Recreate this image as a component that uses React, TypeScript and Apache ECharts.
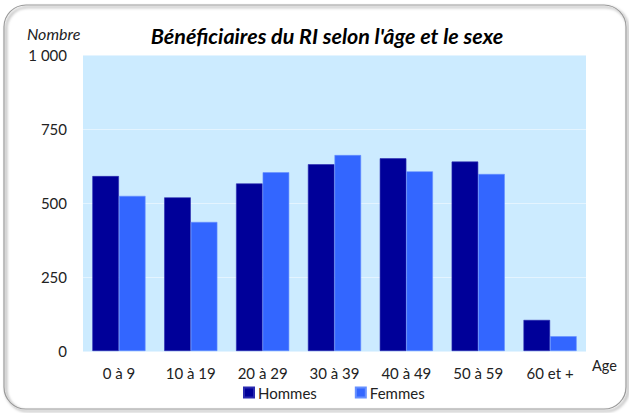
import React, { useEffect, useRef } from "react";
import * as echarts from "echarts";

const categories = ["0 à 9", "10 à 19", "20 à 29", "30 à 39", "40 à 49", "50 à 59", "60 et +"];
const hommes = [591, 519, 566, 631, 651, 640, 105];
const femmes = [524, 436, 604, 662, 607, 598, 50];
const FONT = "Lato";

export default function App() {
  const ref = useRef<HTMLDivElement>(null);
  useEffect(() => {
    const chart = echarts.init(ref.current!, null, { renderer: "svg" });
    chart.setOption({
      animation: false,
      backgroundColor: "#ffffff",
      textStyle: { fontFamily: FONT },
      graphic: [
        {
          type: "rect",
          shape: { x: 4, y: 5, width: 622, height: 404, r: 22 },
          style: { fill: "none", stroke: "#9a9a9a", lineWidth: 1.2, shadowColor: "rgba(0,0,0,0.55)", shadowBlur: 3, shadowOffsetX: 2, shadowOffsetY: 2 },
          z: -10,
        },
        {
          type: "text",
          left: 27,
          top: 25,
          style: { text: "Nombre", font: `italic 16px ${FONT}`, fill: "#222" },
        },
        {
          type: "text",
          left: 592,
          top: 358,
          style: { text: "Age", font: `14.5px ${FONT}`, fill: "#222" },
        },
      ],
      title: {
        text: "Bénéficiaires du RI selon l'âge et le sexe",
        left: 322,
        textAlign: "center",
        top: 20,
        textStyle: { fontFamily: FONT, fontSize: 21.5, fontWeight: "bold", fontStyle: "italic", color: "#000" },
      },
      legend: {
        data: ["Hommes", "Femmes"],
        top: 380,
        left: 238,
        itemWidth: 10,
        itemHeight: 10,
        itemGap: 38,
        icon: "rect",
        textStyle: { fontFamily: FONT, fontSize: 15, color: "#222", padding: [0, 0, 0, -1] },
      },
      grid: {
        left: 83,
        right: 43,
        top: 55,
        bottom: 62,
        show: true,
        backgroundColor: "#CCEBFF",
        borderWidth: 0,
      },
      xAxis: {
        type: "category",
        data: categories,
        axisLine: { show: false },
        axisTick: { show: false },
        axisLabel: { fontFamily: FONT, fontSize: 15, color: "#222", margin: 14 },
      },
      yAxis: {
        type: "value",
        min: 0,
        max: 1000,
        interval: 250,
        axisLine: { show: false },
        axisTick: { show: false },
        splitLine: { lineStyle: { color: "#e4f4ff", width: 1 } },
        axisLabel: {
          fontFamily: FONT,
          fontSize: 15,
          color: "#222",
          margin: 16,
          formatter: (v: number) => (v >= 1000 ? "1 000" : String(v)),
        },
      },
      series: [
        {
          name: "Hommes",
          type: "bar",
          data: hommes,
          barGap: "0%",
          barCategoryGap: "26%",
          itemStyle: { color: "#000099", borderColor: "#2a2ab0", borderWidth: 0.6 },
        },
        {
          name: "Femmes",
          type: "bar",
          data: femmes,
          itemStyle: { color: "#3366FF", borderColor: "#6690ff", borderWidth: 0.6 },
        },
      ],
    });
    return () => chart.dispose();
  }, []);
  return (
    <div
      ref={ref}
      style={{ position: "fixed", left: 0, top: 0, width: 629, height: 413 }}
    />
  );
}
